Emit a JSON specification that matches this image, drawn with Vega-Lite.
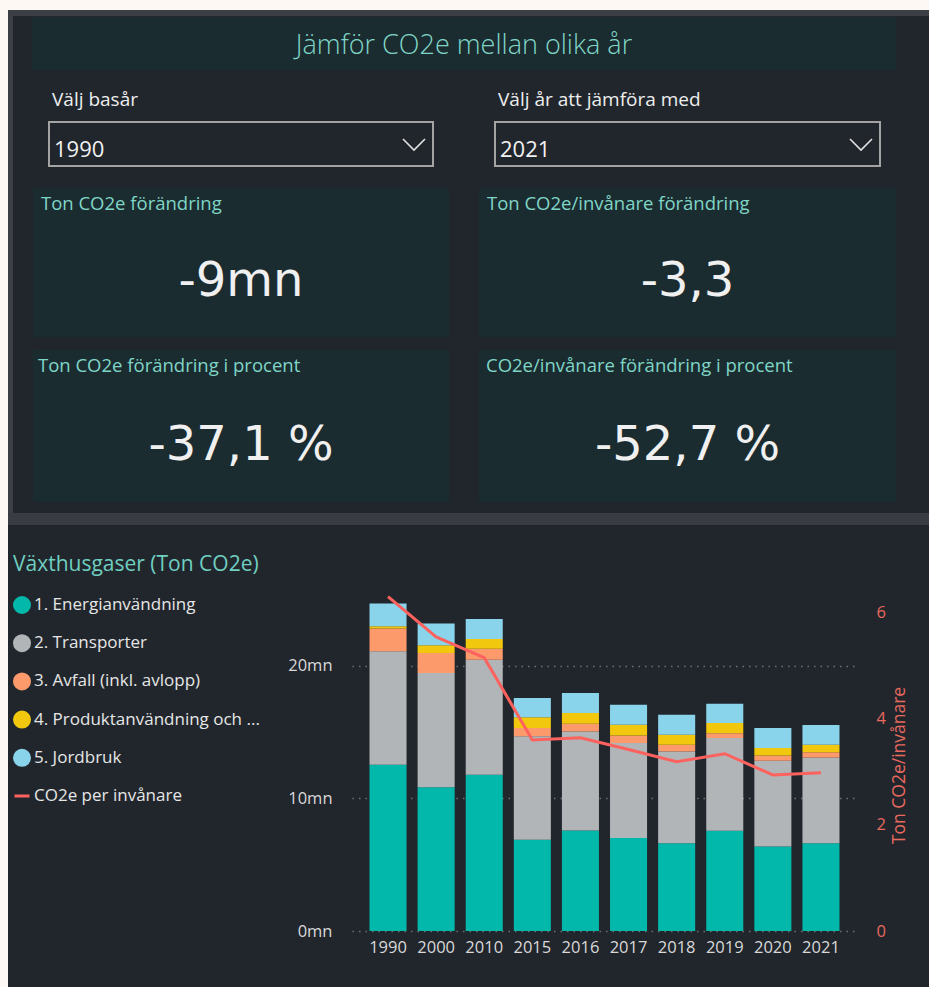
{
  "$schema": "https://vega.github.io/schema/vega-lite/v6.json",
  "background": "#21262d",
  "padding": 0,
  "config": {"view": {"stroke": null}, "font": "Open Sans"},
  "datasets": {
    "sektorer": [
      {"år": "1990", "nr": 1, "sektor": "1. Energianvändning", "ton": 12530000},
      {"år": "1990", "nr": 2, "sektor": "2. Transporter", "ton": 8550000},
      {"år": "1990", "nr": 3, "sektor": "3. Avfall (inkl. avlopp)", "ton": 1710000},
      {"år": "1990", "nr": 4, "sektor": "4. Produktanvändning och ...", "ton": 180000},
      {"år": "1990", "nr": 5, "sektor": "5. Jordbruk", "ton": 1710000},
      {"år": "2000", "nr": 1, "sektor": "1. Energianvändning", "ton": 10840000},
      {"år": "2000", "nr": 2, "sektor": "2. Transporter", "ton": 8610000},
      {"år": "2000", "nr": 3, "sektor": "3. Avfall (inkl. avlopp)", "ton": 1510000},
      {"år": "2000", "nr": 4, "sektor": "4. Produktanvändning och ...", "ton": 570000},
      {"år": "2000", "nr": 5, "sektor": "5. Jordbruk", "ton": 1640000},
      {"år": "2010", "nr": 1, "sektor": "1. Energianvändning", "ton": 11770000},
      {"år": "2010", "nr": 2, "sektor": "2. Transporter", "ton": 8680000},
      {"år": "2010", "nr": 3, "sektor": "3. Avfall (inkl. avlopp)", "ton": 830000},
      {"år": "2010", "nr": 4, "sektor": "4. Produktanvändning och ...", "ton": 730000},
      {"år": "2010", "nr": 5, "sektor": "5. Jordbruk", "ton": 1510000},
      {"år": "2015", "nr": 1, "sektor": "1. Energianvändning", "ton": 6870000},
      {"år": "2015", "nr": 2, "sektor": "2. Transporter", "ton": 7800000},
      {"år": "2015", "nr": 3, "sektor": "3. Avfall (inkl. avlopp)", "ton": 630000},
      {"år": "2015", "nr": 4, "sektor": "4. Produktanvändning och ...", "ton": 800000},
      {"år": "2015", "nr": 5, "sektor": "5. Jordbruk", "ton": 1460000},
      {"år": "2016", "nr": 1, "sektor": "1. Energianvändning", "ton": 7570000},
      {"år": "2016", "nr": 2, "sektor": "2. Transporter", "ton": 7470000},
      {"år": "2016", "nr": 3, "sektor": "3. Avfall (inkl. avlopp)", "ton": 580000},
      {"år": "2016", "nr": 4, "sektor": "4. Produktanvändning och ...", "ton": 810000},
      {"år": "2016", "nr": 5, "sektor": "5. Jordbruk", "ton": 1510000},
      {"år": "2017", "nr": 1, "sektor": "1. Energianvändning", "ton": 7000000},
      {"år": "2017", "nr": 2, "sektor": "2. Transporter", "ton": 7160000},
      {"år": "2017", "nr": 3, "sektor": "3. Avfall (inkl. avlopp)", "ton": 580000},
      {"år": "2017", "nr": 4, "sektor": "4. Produktanvändning och ...", "ton": 810000},
      {"år": "2017", "nr": 5, "sektor": "5. Jordbruk", "ton": 1510000},
      {"år": "2018", "nr": 1, "sektor": "1. Energianvändning", "ton": 6620000},
      {"år": "2018", "nr": 2, "sektor": "2. Transporter", "ton": 6910000},
      {"år": "2018", "nr": 3, "sektor": "3. Avfall (inkl. avlopp)", "ton": 510000},
      {"år": "2018", "nr": 4, "sektor": "4. Produktanvändning och ...", "ton": 750000},
      {"år": "2018", "nr": 5, "sektor": "5. Jordbruk", "ton": 1510000},
      {"år": "2019", "nr": 1, "sektor": "1. Energianvändning", "ton": 7550000},
      {"år": "2019", "nr": 2, "sektor": "2. Transporter", "ton": 6990000},
      {"år": "2019", "nr": 3, "sektor": "3. Avfall (inkl. avlopp)", "ton": 370000},
      {"år": "2019", "nr": 4, "sektor": "4. Produktanvändning och ...", "ton": 760000},
      {"år": "2019", "nr": 5, "sektor": "5. Jordbruk", "ton": 1460000},
      {"år": "2020", "nr": 1, "sektor": "1. Energianvändning", "ton": 6360000},
      {"år": "2020", "nr": 2, "sektor": "2. Transporter", "ton": 6470000},
      {"år": "2020", "nr": 3, "sektor": "3. Avfall (inkl. avlopp)", "ton": 400000},
      {"år": "2020", "nr": 4, "sektor": "4. Produktanvändning och ...", "ton": 560000},
      {"år": "2020", "nr": 5, "sektor": "5. Jordbruk", "ton": 1510000},
      {"år": "2021", "nr": 1, "sektor": "1. Energianvändning", "ton": 6620000},
      {"år": "2021", "nr": 2, "sektor": "2. Transporter", "ton": 6460000},
      {"år": "2021", "nr": 3, "sektor": "3. Avfall (inkl. avlopp)", "ton": 400000},
      {"år": "2021", "nr": 4, "sektor": "4. Produktanvändning och ...", "ton": 560000},
      {"år": "2021", "nr": 5, "sektor": "5. Jordbruk", "ton": 1490000}
    ],
    "percapita": [
      {"år": "1990", "ton_per_inv": 6.3},
      {"år": "2000", "ton_per_inv": 5.54},
      {"år": "2010", "ton_per_inv": 5.15},
      {"år": "2015", "ton_per_inv": 3.6},
      {"år": "2016", "ton_per_inv": 3.64},
      {"år": "2017", "ton_per_inv": 3.42},
      {"år": "2018", "ton_per_inv": 3.19},
      {"år": "2019", "ton_per_inv": 3.34},
      {"år": "2020", "ton_per_inv": 2.94},
      {"år": "2021", "ton_per_inv": 2.98}
    ]
  },
  "spacing": 0,
  "vconcat": [
    {"width": 929, "height": 10, "view": {"fill": "#fdf8f4"}, "data": {"values": []}, "mark": "rect", "encoding": {}},
    {
      "spacing": 0,
      "hconcat": [
        {"width": 8, "height": 977, "view": {"fill": "#fdf8f4"}, "data": {"values": []}, "mark": "rect", "encoding": {}},
        {
          "spacing": 0,
          "vconcat": [
            {"width": 921, "height": 6, "view": {"fill": "#3b3f45"}, "data": {"values": []}, "mark": "rect", "encoding": {}},
            {
              "spacing": 0,
              "hconcat": [
                {"width": 5, "height": 497, "view": {"fill": "#3b3f45"}, "data": {"values": []}, "mark": "rect", "encoding": {}},
                {
                  "spacing": 0,
                  "vconcat": [
                    {"width": 916, "height": 1, "data": {"values": []}, "mark": "rect", "encoding": {}},
                    {
                      "spacing": 0,
                      "hconcat": [
                        {"width": 19, "height": 53, "data": {"values": []}, "mark": "rect", "encoding": {}},
                        {
                          "width": 864, "height": 53,
                          "view": {"fill": "#1b2c30"},
                          "data": {"values": [{"rubrik": "Jämför CO2e mellan olika år"}]},
                          "mark": {"type": "text", "fontSize": 27, "color": "#7fd6c7", "font": "Open Sans", "fontWeight": 300, "dy": 2},
                          "encoding": {"text": {"field": "rubrik"}}
                        }
                      ]
                    },
                    {"width": 916, "height": 19.5, "data": {"values": []}, "mark": "rect", "encoding": {}},
                    {
                      "spacing": 0,
                      "hconcat": [
                        {"width": 35, "height": 44, "data": {"values": []}, "mark": "rect", "encoding": {}},
                        {
                          "width": 384, "height": 44,
                          "view": {"stroke": "#a3a3a3", "strokeWidth": 2},
                          "title": {"text": "Välj basår", "anchor": "start", "offset": 3, "dx": 3, "baseline": "middle", "color": "#eeeeee", "fontSize": 19, "fontWeight": "normal", "font": "Open Sans"},
                          "data": {"values": [{"år": "1990"}]},
                          "layer": [
                            {"mark": {"type": "text", "align": "left", "baseline": "alphabetic", "x": 5, "y": 35, "fontSize": 22, "color": "#f2f2f2", "font": "Open Sans"}, "encoding": {"text": {"field": "år"}}},
                            {"mark": {"type": "point", "shape": "M-1,-0.5L0,0.5L1,-0.5", "size": 484, "filled": false, "stroke": "#e0e0e0", "strokeWidth": 1.6, "opacity": 1, "x": 365, "y": 22.5}, "encoding": {}}
                          ]
                        },
                        {"width": 60, "height": 44, "data": {"values": []}, "mark": "rect", "encoding": {}},
                        {
                          "width": 385, "height": 44,
                          "view": {"stroke": "#a3a3a3", "strokeWidth": 2},
                          "title": {"text": "Välj år att jämföra med", "anchor": "start", "offset": 3, "dx": 3, "baseline": "middle", "color": "#eeeeee", "fontSize": 19, "fontWeight": "normal", "font": "Open Sans"},
                          "data": {"values": [{"år": "2021"}]},
                          "layer": [
                            {"mark": {"type": "text", "align": "left", "baseline": "alphabetic", "x": 5, "y": 35, "fontSize": 22, "color": "#f2f2f2", "font": "Open Sans"}, "encoding": {"text": {"field": "år"}}},
                            {"mark": {"type": "point", "shape": "M-1,-0.5L0,0.5L1,-0.5", "size": 484, "filled": false, "stroke": "#e0e0e0", "strokeWidth": 1.6, "opacity": 1, "x": 366, "y": 22.5}, "encoding": {}}
                          ]
                        }
                      ]
                    },
                    {"width": 916, "height": 21, "data": {"values": []}, "mark": "rect", "encoding": {}},
                    {
                      "spacing": 0,
                      "hconcat": [
                        {"width": 20, "height": 149, "data": {"values": []}, "mark": "rect", "encoding": {}},
                        {
                          "width": 416, "height": 149,
                          "view": {"fill": "#1b2c30"},
                          "title": {"text": "Ton CO2e förändring", "anchor": "start", "offset": -34.5, "dx": 8, "baseline": "middle", "color": "#7fd6c7", "fontSize": 18.5, "fontWeight": "normal", "font": "Open Sans"},
                          "data": {"values": [{"värde": "-9mn"}]},
                          "mark": {"type": "text", "fontSize": 48, "font": "DejaVu Sans", "color": "#f0f0f0", "dy": 19.5},
                          "encoding": {"text": {"field": "värde"}}
                        },
                        {"width": 30, "height": 149, "data": {"values": []}, "mark": "rect", "encoding": {}},
                        {
                          "width": 417, "height": 149,
                          "view": {"fill": "#1b2c30"},
                          "title": {"text": "Ton CO2e/invånare förändring", "anchor": "start", "offset": -34.5, "dx": 8, "baseline": "middle", "color": "#7fd6c7", "fontSize": 18.5, "fontWeight": "normal", "font": "Open Sans"},
                          "data": {"values": [{"värde": "-3,3"}]},
                          "mark": {"type": "text", "fontSize": 48, "font": "DejaVu Sans", "color": "#f0f0f0", "dy": 19.5},
                          "encoding": {"text": {"field": "värde"}}
                        }
                      ]
                    },
                    {"width": 916, "height": 13, "data": {"values": []}, "mark": "rect", "encoding": {}},
                    {
                      "spacing": 0,
                      "hconcat": [
                        {"width": 20, "height": 152, "data": {"values": []}, "mark": "rect", "encoding": {}},
                        {
                          "width": 416, "height": 152,
                          "view": {"fill": "#1b2c30"},
                          "title": {"text": "Ton CO2e förändring i procent", "anchor": "start", "offset": -34.5, "dx": 5, "baseline": "middle", "color": "#7fd6c7", "fontSize": 18.5, "fontWeight": "normal", "font": "Open Sans"},
                          "data": {"values": [{"värde": "-37,1 %"}]},
                          "mark": {"type": "text", "fontSize": 48, "font": "DejaVu Sans", "color": "#f0f0f0", "dy": 20},
                          "encoding": {"text": {"field": "värde"}}
                        },
                        {"width": 30, "height": 152, "data": {"values": []}, "mark": "rect", "encoding": {}},
                        {
                          "width": 417, "height": 152,
                          "view": {"fill": "#1b2c30"},
                          "title": {"text": "CO2e/invånare förändring i procent", "anchor": "start", "offset": -34.5, "dx": 7, "baseline": "middle", "color": "#7fd6c7", "fontSize": 18.5, "fontWeight": "normal", "font": "Open Sans"},
                          "data": {"values": [{"värde": "-52,7 %"}]},
                          "mark": {"type": "text", "fontSize": 48, "font": "DejaVu Sans", "color": "#f0f0f0", "dy": 20},
                          "encoding": {"text": {"field": "värde"}}
                        }
                      ]
                    },
                    {"width": 916, "height": 11, "data": {"values": []}, "mark": "rect", "encoding": {}}
                  ]
                }
              ]
            },
            {"width": 921, "height": 12, "view": {"fill": "#393d43"}, "data": {"values": []}, "mark": "rect", "encoding": {}},
            {
              "spacing": 0,
              "vconcat": [
                {"width": 921, "height": 61, "data": {"values": []}, "mark": "rect", "encoding": {}},
                {
                  "spacing": 0,
                  "hconcat": [
                    {"width": 279, "height": 345, "data": {"values": []}, "mark": "rect", "encoding": {}},
                    {
                      "width": 505, "height": 345,
                      "layer": [
                        {
                          "data": {"name": "sektorer"},
                          "mark": {"type": "bar"},
                          "encoding": {
                            "x": {"field": "år", "type": "nominal", "scale": {"paddingInner": 0.23, "paddingOuter": 0.364},
                                  "axis": {"title": null, "labelAngle": 0, "domain": false, "ticks": false, "labelPadding": 8, "labelColor": "#d9d9d9", "labelFontSize": 16.5, "labelFont": "Open Sans"}},
                            "y": {"field": "ton", "type": "quantitative", "stack": "zero", "scale": {"domain": [0, 26000000], "nice": false},
                                  "axis": {"title": null, "orient": "left", "values": [0, 10000000, 20000000], "labelExpr": "format(datum.value/1000000, 'd') + 'mn'", "domain": false, "ticks": false, "labelPadding": 20, "labelColor": "#d9d9d9", "labelFontSize": 16.5, "labelFont": "Open Sans", "grid": true, "gridColor": "#6b7075", "gridDash": [1.5, 5], "gridWidth": 1.5}},
                            "color": {"field": "sektor", "type": "nominal",
                                      "scale": {"domain": ["1. Energianvändning", "2. Transporter", "3. Avfall (inkl. avlopp)", "4. Produktanvändning och ...", "5. Jordbruk", "CO2e per invånare"],
                                                "range": ["#01b8aa", "#b1b5b7", "#fd9a6c", "#f2c80f", "#8ad4eb", "#fd625e"]},
                                      "legend": {"orient": "none", "legendX": 13, "legendY": 554, "title": "Växthusgaser (Ton CO2e)", "titleColor": "#6fcfc0", "titleFontSize": 21, "titleFont": "Open Sans", "titleFontWeight": "normal", "titlePadding": 21, "titleLimit": 500, "labelColor": "#e6e6e6", "labelFontSize": 17, "labelFont": "Open Sans", "symbolSize": 225, "symbolType": "circle", "rowPadding": 10.2, "gridAlign": "all", "labelOffset": 3, "padding": 0, "labelLimit": 400,
                                                 "encode": {"symbols": {"update": {
                                                   "shape": {"signal": "datum.value === 'CO2e per invånare' ? 'stroke' : 'circle'"},
                                                   "fill": {"signal": "datum.value === 'CO2e per invånare' ? 'transparent' : scale('color', datum.value)"},
                                                   "stroke": {"signal": "datum.value === 'CO2e per invånare' ? scale('color', datum.value) : 'transparent'"},
                                                   "strokeWidth": {"value": 3},
                                                   "opacity": {"value": 1}}}}}},
                            "order": {"field": "nr", "sort": "ascending"}
                          }
                        },
                        {
                          "data": {"name": "percapita"},
                          "mark": {"type": "line", "strokeWidth": 3},
                          "encoding": {
                            "x": {"field": "år", "type": "nominal"},
                            "y": {"field": "ton_per_inv", "type": "quantitative", "scale": {"domain": [0, 6.5], "nice": false},
                                  "axis": {"orient": "right", "title": "Ton CO2e/invånare", "titleAngle": 270, "titleBaseline": "top", "titleY": 179, "titleColor": "#e8695e", "titleFontSize": 17.5, "titleFontWeight": "normal", "titleFont": "Open Sans", "titlePadding": 5, "values": [0, 2, 4, 6], "grid": false, "domain": false, "ticks": false, "labelPadding": 19, "labelColor": "#e8695e", "labelFontSize": 16.5, "labelFont": "Open Sans"}},
                            "color": {"datum": "CO2e per invånare"}
                          }
                        }
                      ],
                      "resolve": {"scale": {"y": "independent"}}
                    }
                  ]
                },
                {"width": 921, "height": 40, "data": {"values": []}, "mark": "rect", "encoding": {}}
              ]
            }
          ]
        }
      ]
    }
  ]
}
